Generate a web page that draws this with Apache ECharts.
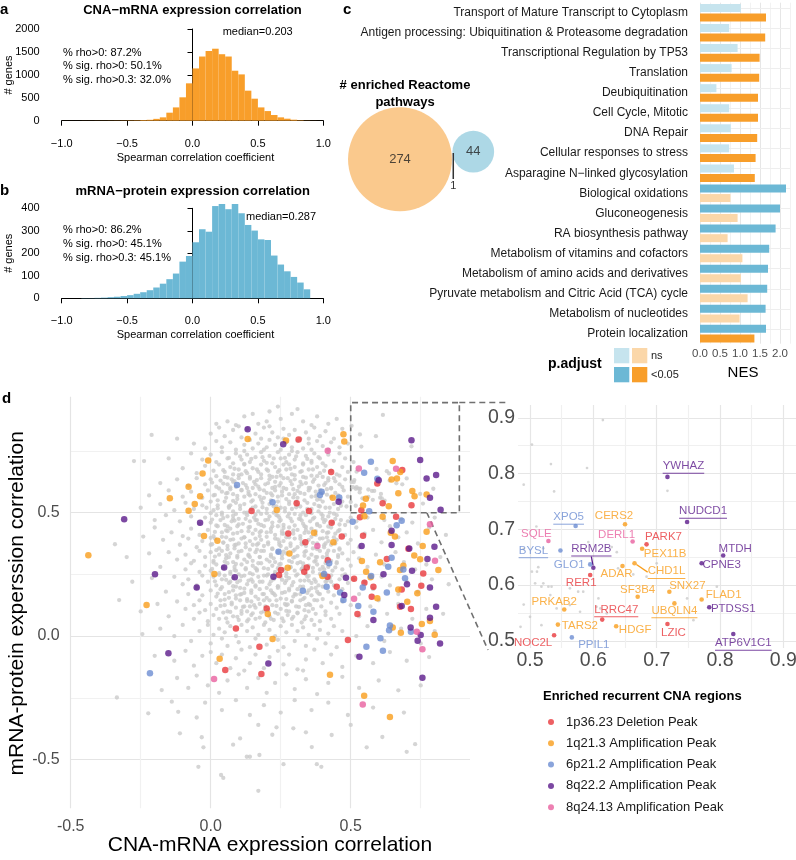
<!DOCTYPE html>
<html>
<head>
<meta charset="utf-8">
<title>CNA / mRNA / protein correlation</title>
<script src="https://cdn.jsdelivr.net/npm/echarts@6.0.0/dist/echarts.min.js"></script>
<style>
  html, body { margin: 0; padding: 0; background: #fff; }
  #main { width: 796px; height: 860px; }
</style>
</head>
<body>
<div id="main"></div>
<script>
// ---------- panel a / b : histograms ----------
var binStarts = [-1.0, -0.95, -0.9, -0.85, -0.8, -0.75, -0.7, -0.65, -0.6, -0.55,
                 -0.5, -0.45, -0.4, -0.35, -0.3, -0.25, -0.2, -0.15, -0.1, -0.05,
                 0.0, 0.05, 0.1, 0.15, 0.2, 0.25, 0.3, 0.35, 0.4, 0.45,
                 0.5, 0.55, 0.6, 0.65, 0.7, 0.75, 0.8, 0.85, 0.9, 0.95];
var binWidth = 0.05;
var cnaMrnaCounts = [1, 1, 1, 2, 2, 3, 3, 4, 5, 6,
                     8, 10, 15, 20, 40, 73, 175, 290, 510, 815,
                     1140, 1400, 1520, 1570, 1450, 1400, 1090, 1010, 655, 480,
                     290, 210, 125, 73, 44, 22, 10, 4, 2, 1];
var mrnaProtCounts = [0, 0, 0, 1, 1, 2, 3, 5, 7, 10,
                      14, 20, 27, 36, 48, 65, 85, 110, 163, 188,
                      249, 307, 296, 410, 419, 396, 419, 378, 326, 301,
                      262, 259, 190, 150, 120, 95, 70, 40, 0, 0];
var cnaMrnaMedian = 0.203;
var mrnaProtMedian = 0.287;
var cnaMrnaStats = ['% rho>0: 87.2%', '% sig. rho>0: 50.1%', '% sig. rho>0.3: 32.0%'];
var mrnaProtStats = ['% rho>0: 86.2%', '% sig. rho>0: 45.1%', '% sig. rho>0.3: 45.1%'];

// ---------- panel c : reactome pathways ----------
var vennCounts = [274, 44, 1];   // CNA-mRNA only, mRNA-protein only, both
var pathways = [
    'Transport of Mature Transcript to Cytoplasm',
    'Antigen processing: Ubiquitination & Proteasome degradation',
    'Transcriptional Regulation by TP53',
    'Translation',
    'Deubiquitination',
    'Cell Cycle, Mitotic',
    'DNA Repair',
    'Cellular responses to stress',
    'Asparagine N\u2212linked glycosylation',
    'Biological oxidations',
    'Gluconeogenesis',
    'RA biosynthesis pathway',
    'Metabolism of vitamins and cofactors',
    'Metabolism of amino acids and derivatives',
    'Pyruvate metabolism and Citric Acid (TCA) cycle',
    'Metabolism of nucleotides',
    'Protein localization'
];
var nesProt = [1.02, 0.73, 0.94, 0.79, 0.41, 0.73, 0.77, 0.73, 0.85, 2.15, 2.00, 1.89, 1.73, 1.70, 1.68, 1.64, 1.65];
var sigProt = [0, 0, 0, 0, 0, 0, 0, 0, 0, 1, 1, 1, 1, 1, 1, 1, 1];
var nesCna = [1.65, 1.63, 1.49, 1.48, 1.45, 1.45, 1.43, 1.39, 1.37, 0.76, 0.94, 0.69, 1.06, 1.02, 1.19, 0.99, 1.36];
var sigCna = [1, 1, 1, 1, 1, 1, 1, 1, 1, 0, 0, 0, 0, 0, 0, 0, 1];

// ---------- panel d : gene scatter ----------
var regionNames = ['1p36.23 Deletion Peak', '1q21.3 Amplification Peak', '6p21.2 Amplification Peak',
                   '8q22.2 Amplification Peak', '8q24.13 Amplification Peak'];
var regionColors = ['#E8383C', '#F99E1C', '#6D8DD2', '#5B1A8B', '#E9609F'];

// all genes (x = CNA-mRNA rho, y = mRNA-protein rho)
var greyPoints = [
 [.06,.87],[.12,.89],[.17,.86],[.21,.91],[.25,.88],[.29,.90],[.33,.87],[.38,.89],[.42,.86],[.615,.896],[.503,.852],[.24,.93],[.09,.855],[.15,.90],[.31,.92],[.36,.855],[.20,.87],[.45,.88],[.02,.86],
 [-.211,.815],[-.12,.80],[0,.82],[.03,.845],[.05,.81],[.08,.835],[.11,.805],[.13,.84],[.16,.82],[.18,.80],[.19,.845],[.22,.825],[.24,.805],[.26,.84],[.28,.815],[.30,.835],[.32,.80],[.34,.825],[.37,.845],[.39,.81],[.41,.83],[.44,.80],[.47,.84],[.533,.817],[.59,.81],[.10,.85],[.21,.85],[.35,.80],
 [-.06,.78],[-.02,.76],[.02,.79],[.04,.765],[.07,.785],[.09,.755],[.12,.775],[.14,.795],[.15,.76],[.17,.78],[.20,.765],[.21,.795],[.23,.775],[.25,.755],[.27,.785],[.29,.765],[.31,.79],[.33,.76],[.35,.78],[.36,.755],[.38,.79],[.40,.77],[.42,.755],[.43,.785],[.46,.765],[.49,.78],[.538,.768],[.717,.769],[.19,.755],[.26,.80],
 [-.274,.709],[-.238,.709],[-.15,.72],[-.07,.74],[-.03,.715],[0,.735],[.02,.705],[.04,.745],[.06,.72],[.08,.70],[.09,.74],[.11,.715],[.13,.735],[.14,.705],[.16,.725],[.18,.745],[.19,.71],[.21,.73],[.22,.70],[.24,.745],[.25,.72],[.27,.705],[.28,.735],[.30,.715],[.31,.745],[.33,.70],[.34,.73],[.36,.71],[.37,.74],[.39,.72],[.40,.70],[.42,.735],[.44,.71],[.46,.74],[.48,.72],[.51,.705],[.12,.75],[.29,.75],
 [-.10,.68],[-.05,.66],[-.02,.69],[.01,.67],[.03,.695],[.05,.665],[.07,.685],[.08,.655],[.10,.675],[.12,.695],[.13,.66],[.15,.68],[.17,.665],[.18,.695],[.20,.675],[.21,.65],[.23,.685],[.24,.665],[.26,.695],[.27,.675],[.29,.655],[.30,.685],[.32,.665],[.33,.695],[.35,.675],[.36,.65],[.38,.685],[.39,.66],[.41,.69],[.43,.67],[.45,.655],[.47,.685],[.49,.665],[.521,.666],[.592,.677],[.629,.668],[.637,.659],[.11,.655],[.25,.65],
 [-.18,.62],[-.12,.635],[-.08,.61],[-.05,.64],[-.02,.615],[0,.635],[.02,.605],[.035,.63],[.05,.645],[.06,.615],[.075,.635],[.09,.605],[.10,.64],[.115,.62],[.13,.60],[.14,.645],[.155,.625],[.17,.605],[.18,.64],[.195,.615],[.21,.635],[.22,.60],[.235,.645],[.25,.62],[.26,.60],[.275,.64],[.29,.615],[.30,.635],[.315,.605],[.33,.645],[.34,.62],[.355,.60],[.37,.635],[.385,.61],[.40,.645],[.41,.62],[.43,.60],[.44,.64],[.46,.615],[.48,.635],[.513,.632],[.503,.624],[.508,.603],[.511,.624],[.521,.603],[.639,.63],[.663,.619],[.684,.615],[.70,.639],[.795,.597],[.08,.625],[.16,.615],[.23,.625],[.32,.625],[.42,.63],
 [-.22,.57],[-.15,.59],[-.10,.565],[-.07,.585],[-.03,.56],[-.01,.59],[.01,.57],[.025,.55],[.04,.585],[.055,.56],[.07,.595],[.08,.575],[.095,.555],[.11,.59],[.12,.565],[.135,.585],[.15,.55],[.16,.575],[.175,.595],[.19,.56],[.20,.58],[.215,.55],[.23,.59],[.24,.565],[.255,.585],[.27,.555],[.28,.575],[.295,.595],[.31,.56],[.32,.58],[.335,.55],[.35,.59],[.36,.565],[.375,.585],[.39,.555],[.40,.58],[.415,.595],[.43,.565],[.445,.58],[.46,.555],[.475,.59],[.49,.565],[.518,.597],[.529,.597],[.534,.597],[.532,.582],[.576,.588],[.584,.588],[.563,.594],[.608,.576],[.563,.564],[.605,.561],[.748,.576],[.611,.558],[.542,.558],[.579,.552],[.06,.58],[.14,.57],[.22,.57],[.30,.575],[.38,.57],
 [-.25,.52],[-.18,.535],[-.13,.51],[-.09,.54],[-.06,.515],[-.03,.53],[0,.545],[.01,.51],[.025,.53],[.04,.50],[.05,.545],[.065,.52],[.08,.505],[.09,.54],[.105,.515],[.12,.535],[.13,.50],[.145,.545],[.16,.525],[.17,.505],[.185,.54],[.20,.515],[.21,.535],[.225,.50],[.24,.545],[.25,.52],[.265,.505],[.28,.535],[.29,.515],[.305,.545],[.32,.525],[.33,.50],[.345,.54],[.36,.515],[.37,.535],[.385,.505],[.40,.545],[.41,.52],[.425,.50],[.44,.535],[.455,.515],[.47,.545],[.485,.525],[.50,.543],[.518,.528],[.621,.549],[.758,.537],[.07,.53],[.15,.52],[.235,.525],[.31,.53],[.39,.525],
 [-.20,.47],[-.16,.49],[-.11,.465],[-.07,.485],[-.04,.455],[-.02,.48],[0,.46],[.02,.49],[.035,.47],[.05,.45],[.06,.485],[.075,.465],[.09,.495],[.10,.475],[.115,.455],[.13,.49],[.14,.465],[.155,.48],[.17,.455],[.18,.495],[.195,.47],[.21,.485],[.22,.46],[.235,.49],[.25,.47],[.26,.45],[.275,.485],[.29,.465],[.30,.495],[.315,.475],[.33,.455],[.34,.49],[.355,.465],[.37,.48],[.38,.455],[.395,.495],[.41,.47],[.42,.485],[.435,.46],[.45,.49],[.465,.47],[.48,.45],[.50,.48],[.52,.465],[.56,.48],[.62,.47],[.68,.475],[.72,.46],[.80,.48],[.08,.475],[.16,.47],[.245,.48],[.32,.475],[.40,.475],
 [-.241,.403],[-.20,.44],[-.14,.42],[-.10,.405],[-.07,.435],[-.04,.41],[-.01,.43],[.01,.405],[.025,.445],[.04,.42],[.055,.40],[.07,.435],[.08,.415],[.095,.445],[.11,.425],[.12,.40],[.135,.44],[.15,.415],[.16,.43],[.175,.405],[.19,.445],[.20,.42],[.215,.435],[.23,.41],[.24,.445],[.255,.425],[.27,.40],[.28,.44],[.295,.415],[.31,.43],[.32,.405],[.335,.445],[.35,.42],[.36,.435],[.375,.41],[.39,.445],[.40,.425],[.415,.40],[.43,.44],[.445,.415],[.46,.43],[.48,.41],[.52,.44],[.55,.415],[.58,.43],[.64,.445],[.67,.40],[.70,.42],[.78,.44],[.84,.41],[.06,.425],[.18,.425],[.26,.415],[.34,.43],[.42,.42],
 [-.342,.372],[-.17,.39],[-.11,.37],[-.08,.395],[-.05,.36],[-.03,.385],[0,.37],[.015,.395],[.03,.355],[.045,.38],[.06,.365],[.07,.39],[.085,.355],[.10,.375],[.11,.395],[.125,.36],[.14,.385],[.15,.37],[.165,.35],[.18,.39],[.19,.365],[.205,.38],[.22,.355],[.23,.395],[.245,.37],[.26,.385],[.27,.355],[.285,.375],[.30,.395],[.31,.36],[.325,.38],[.34,.365],[.35,.39],[.365,.355],[.38,.375],[.39,.395],[.405,.36],[.42,.385],[.43,.37],[.45,.39],[.46,.355],[.49,.375],[.50,.39],[.53,.36],[.61,.38],[.74,.375],[.09,.37],[.17,.375],[.25,.365],[.33,.375],[.41,.375],
 [-.30,.32],[-.22,.335],[-.15,.34],[-.12,.31],[-.09,.33],[-.06,.305],[-.04,.345],[-.02,.32],[0,.34],[.01,.305],[.03,.33],[.04,.345],[.055,.315],[.07,.335],[.08,.30],[.095,.325],[.11,.345],[.12,.31],[.135,.33],[.15,.305],[.16,.34],[.175,.32],[.19,.345],[.20,.31],[.215,.33],[.23,.30],[.24,.34],[.255,.315],[.27,.335],[.28,.305],[.295,.345],[.31,.325],[.32,.30],[.335,.34],[.35,.315],[.36,.33],[.375,.305],[.39,.345],[.40,.32],[.415,.335],[.43,.305],[.44,.345],[.455,.32],[.47,.335],[.49,.31],[.51,.34],[.53,.315],[.59,.33],[.66,.34],[.69,.30],[.82,.32],[.065,.32],[.14,.32],[.225,.315],[.30,.32],[.38,.32],
 [-.18,.28],[-.09,.27],[-.07,.295],[-.04,.26],[-.02,.285],[0,.265],[.02,.29],[.03,.255],[.045,.275],[.06,.295],[.07,.26],[.085,.28],[.10,.25],[.11,.29],[.125,.27],[.14,.255],[.15,.285],[.165,.265],[.18,.295],[.19,.275],[.205,.25],[.22,.285],[.23,.26],[.245,.29],[.26,.27],[.27,.255],[.285,.28],[.30,.265],[.31,.295],[.325,.27],[.34,.25],[.35,.285],[.365,.26],[.38,.29],[.39,.27],[.405,.255],[.42,.28],[.435,.265],[.45,.295],[.47,.27],[.48,.25],[.50,.285],[.56,.28],[.62,.29],[.73,.27],[.77,.29],[.09,.265],[.16,.275],[.24,.275],[.33,.28],[.40,.28],
 [-.28,.22],[-.21,.235],[-.13,.24],[-.10,.21],[-.08,.23],[-.05,.205],[-.03,.245],[-.01,.22],[.01,.24],[.02,.205],[.04,.23],[.05,.245],[.065,.215],[.08,.235],[.09,.20],[.105,.225],[.12,.245],[.13,.21],[.145,.23],[.16,.205],[.17,.24],[.185,.22],[.20,.245],[.21,.21],[.225,.23],[.24,.20],[.25,.24],[.265,.215],[.28,.235],[.29,.205],[.305,.245],[.32,.225],[.33,.20],[.345,.24],[.36,.215],[.37,.23],[.385,.205],[.40,.245],[.41,.22],[.425,.235],[.44,.205],[.46,.23],[.47,.245],[.49,.215],[.51,.23],[.55,.22],[.61,.24],[.64,.205],[.70,.22],[.79,.23],[.85,.21],[.07,.22],[.15,.22],[.27,.225],[.35,.225],[.43,.22],
 [-.16,.18],[-.08,.17],[-.05,.195],[-.03,.165],[0,.185],[.02,.16],[.035,.19],[.05,.17],[.065,.155],[.08,.185],[.09,.165],[.105,.195],[.12,.175],[.13,.15],[.145,.185],[.16,.16],[.175,.19],[.19,.17],[.20,.155],[.215,.185],[.23,.165],[.24,.195],[.255,.175],[.27,.15],[.28,.185],[.295,.16],[.31,.19],[.32,.17],[.335,.155],[.35,.185],[.36,.165],[.375,.195],[.39,.17],[.40,.15],[.42,.18],[.44,.165],[.47,.19],[.53,.17],[.58,.19],[.67,.17],[.74,.18],[.11,.17],[.22,.175],[.30,.17],[.38,.18],
 [-.327,.146],[-.19,.13],[-.12,.14],[-.09,.11],[-.06,.125],[-.04,.145],[-.02,.105],[0,.13],[.02,.11],[.035,.145],[.05,.125],[.06,.10],[.075,.135],[.09,.115],[.105,.145],[.12,.12],[.13,.10],[.145,.14],[.16,.115],[.175,.13],[.19,.145],[.205,.105],[.22,.125],[.235,.145],[.25,.11],[.265,.13],[.28,.10],[.29,.14],[.305,.12],[.32,.145],[.335,.105],[.35,.13],[.365,.11],[.38,.145],[.395,.12],[.41,.10],[.43,.135],[.45,.115],[.47,.14],[.50,.125],[.57,.12],[.60,.145],[.67,.13],[.77,.11],[.14,.12],[.27,.125],[.34,.125],
 [-.25,.10],[-.15,.08],[-.06,.07],[-.04,.095],[-.01,.06],[.01,.085],[.03,.07],[.045,.095],[.06,.055],[.08,.08],[.10,.065],[.11,.09],[.13,.06],[.145,.085],[.16,.07],[.18,.095],[.195,.055],[.21,.08],[.225,.065],[.24,.09],[.26,.06],[.275,.085],[.29,.07],[.31,.095],[.325,.055],[.34,.08],[.36,.065],[.375,.09],[.39,.06],[.41,.085],[.43,.07],[.46,.09],[.53,.08],[.63,.09],[.72,.07],[.83,.09],
 [-.244,.008],[-.18,.03],[-.13,0],[-.10,.045],[-.04,.02],[-.01,.045],[.01,.005],[.03,.03],[.05,.015],[.07,.04],[.09,0],[.11,.045],[.13,.02],[.15,.035],[.17,.005],[.19,.045],[.21,.025],[.23,0],[.25,.04],[.27,.015],[.29,.045],[.31,.02],[.33,.035],[.35,.005],[.37,.045],[.39,.025],[.42,.01],[.44,.04],[.47,.02],[.52,0],[.56,.04],[.68,.03],[.80,.02],
 [-.07,-.02],[0,-.03],[.04,-.01],[.06,-.04],[.10,-.025],[.14,-.045],[.16,-.01],[.20,-.035],[.24,-.015],[.26,-.045],[.30,-.02],[.34,-.04],[.38,-.01],[.41,-.03],[.45,-.045],[.62,-.02],[.75,-.03],
 [-.20,-.08],[-.13,-.10],[-.09,-.06],[-.06,-.12],[-.03,-.08],[0,-.065],[.02,-.11],[.04,-.075],[.07,-.13],[.09,-.09],[.11,-.055],[.14,-.11],[.16,-.075],[.19,-.13],[.21,-.085],[.24,-.06],[.26,-.115],[.28,-.075],[.31,-.135],[.34,-.095],[.37,-.055],[.40,-.11],[.43,-.075],[.47,-.125],[.52,-.08],[.58,-.11],[.64,-.065],[.70,-.10],[.78,-.085],[.12,-.14],[.33,-.14],
 [-.175,-.219],[-.12,-.17],[-.08,-.21],[-.05,-.16],[-.01,-.20],[.03,-.23],[.06,-.18],[.10,-.155],[.13,-.21],[.17,-.17],[.20,-.23],[.23,-.19],[.27,-.155],[.30,-.215],[.34,-.175],[.38,-.235],[.42,-.19],[.47,-.165],[.53,-.21],[.60,-.18],[.67,-.22],[.75,-.20],
 [-.335,-.249],[-.223,-.313],[-.139,-.266],[-.116,-.307],[-.05,-.33],[-.02,-.27],[.04,-.30],[.09,-.26],[.14,-.32],[.19,-.28],[.25,-.31],[.30,-.26],[.36,-.30],[.42,-.27],[.49,-.32],[.58,-.29],[.69,-.31],
 [-.11,-.394],[-.032,-.41],[.08,-.44],[.105,-.415],[.22,-.40],[.235,-.37],[.295,-.374],[.34,-.39],[.432,-.401],[.613,-.409],[.73,-.438],[.17,-.36],[.50,-.36],
 [-.044,-.53],[-.026,-.451],[.129,-.489],[.14,-.489],[.174,-.482],[.26,-.519],[.379,-.519],[.395,-.53],[.361,-.45],[.557,-.451],[.70,-.469],[.037,-.563],[.045,-.575],[.17,-.627],
 // dense core
 [.005,.622],[.045,.618],[.085,.628],[.125,.612],[.165,.632],[.205,.62],[.245,.61],[.285,.628],[.325,.615],[.365,.625],[.405,.612],[.445,.627],
 [.015,.572],[.055,.578],[.095,.568],[.135,.575],[.175,.565],[.215,.578],[.255,.57],[.295,.562],[.335,.576],[.375,.567],[.415,.573],[.455,.57],
 [-.015,.52],[.025,.518],[.065,.525],[.105,.528],[.145,.515],[.185,.522],[.225,.526],[.265,.518],[.305,.522],[.345,.515],[.385,.527],[.425,.52],[.465,.528],
 [.005,.472],[.045,.478],[.085,.468],[.125,.475],[.165,.47],[.205,.472],[.245,.465],[.285,.476],[.325,.468],[.365,.475],[.405,.462],[.445,.475],[.49,.465],
 [.015,.422],[.055,.428],[.095,.418],[.135,.425],[.175,.42],[.215,.422],[.255,.415],[.295,.428],[.335,.418],[.375,.425],[.415,.418],[.455,.425],
 [.005,.372],[.045,.378],[.085,.368],[.125,.375],[.165,.37],[.205,.372],[.245,.38],[.285,.365],[.325,.372],[.365,.378],[.405,.368],[.445,.375],
 [.015,.322],[.055,.328],[.095,.318],[.135,.325],[.175,.32],[.215,.322],[.255,.328],[.295,.318],[.335,.325],[.375,.32],[.415,.322],[.455,.328],
 [.005,.272],[.045,.278],[.085,.268],[.125,.275],[.165,.27],[.205,.272],[.245,.268],[.285,.278],[.325,.272],[.365,.276],[.405,.27],[.445,.278],
 [.015,.222],[.055,.228],[.095,.218],[.135,.225],[.175,.22],[.215,.222],[.255,.228],[.295,.218],[.335,.225],[.375,.22],[.415,.224],
 [.025,.172],[.065,.178],[.105,.168],[.145,.175],[.185,.17],[.225,.172],[.265,.178],[.305,.168],[.345,.175],[.385,.172],
 [.035,.122],[.075,.128],[.115,.118],[.155,.125],[.195,.12],[.235,.122],[.275,.128],[.315,.118],[.355,.125],
 [.055,.072],[.095,.078],[.135,.068],[.175,.075],[.215,.07],[.255,.072],[.295,.078],[.335,.068],
 [.045,.672],[.085,.678],[.125,.668],[.165,.675],[.205,.67],[.245,.672],[.285,.678],[.325,.668],[.365,.675],[.405,.67],
 [.065,.722],[.105,.728],[.145,.718],[.185,.725],[.225,.72],[.265,.722],[.305,.728],[.345,.718],[.385,.725],
 [.02,.648],[.06,.642],[.1,.652],[.14,.638],[.18,.655],[.22,.645],[.26,.64],[.3,.652],[.34,.642],[.38,.648],[.42,.64],[.46,.65],
 [.03,.598],[.07,.602],[.11,.592],[.15,.6],[.19,.59],[.23,.604],[.27,.596],[.31,.588],[.35,.6],[.39,.592],[.43,.598],[.47,.604],
 [.0,.498],[.04,.492],[.08,.488],[.12,.5],[.16,.492],[.2,.498],[.24,.488],[.28,.496],[.32,.49],[.36,.498],[.4,.488],[.44,.496],
 [.02,.448],[.06,.444],[.1,.452],[.14,.442],[.18,.45],[.22,.445],[.26,.438],[.3,.448],[.34,.442],[.38,.45],[.42,.444],[.46,.452],
 [.0,.398],[.04,.402],[.08,.392],[.12,.4],[.16,.395],[.2,.402],[.24,.392],[.28,.4],[.32,.394],[.36,.402],[.4,.396],[.44,.4],
 [.02,.348],[.06,.352],[.1,.342],[.14,.35],[.18,.345],[.22,.352],[.26,.342],[.3,.35],[.34,.344],[.38,.352],[.42,.346],[.46,.35],
 [.01,.298],[.05,.302],[.09,.292],[.13,.3],[.17,.295],[.21,.302],[.25,.292],[.29,.3],[.33,.294],[.37,.302],[.41,.296],[.45,.3],
 [.03,.248],[.07,.252],[.11,.242],[.15,.25],[.19,.245],[.23,.252],[.27,.242],[.31,.25],[.35,.244],[.39,.252],[.43,.246],
 [.04,.198],[.08,.202],[.12,.192],[.16,.2],[.2,.195],[.24,.202],[.28,.192],[.32,.2],[.36,.194],[.4,.2],
 [.05,.148],[.09,.152],[.13,.142],[.17,.15],[.21,.145],[.25,.152],[.29,.142],[.33,.15],[.37,.146],
 [.07,.098],[.11,.102],[.15,.092],[.19,.1],[.23,.095],[.27,.102],[.31,.092],[.35,.1],
 [.08,.548],[.18,.552],[.28,.545],[.38,.552],[.12,.698],[.2,.702],[.28,.696],[.36,.702]
];

// genes in enriched recurrent CNA regions [x, y, region index]
var regionPoints = [
 [.132,.838,3],[.259,.777,3],[.457,.544,3],[-.038,.459,3],[.646,.427,3],[.646,.369,3],[.539,.365,3],[.799,.362,3],[.709,.355,3],[.774,.312,3],[.048,.278,3],[.086,.238,3],[.224,.240,3],[.483,.236,3],[.617,.250,3],[.719,.265,3],[.701,.210,3],[.783,.197,3],[.477,.166,3],[.682,.122,3],[.805,.119,3],[.581,.065,3],[.783,.074,3],[.714,.035,3],[.531,-.084,3],[.75,.004,3],[.739,-.019,3],[.819,-.03,3],[.756,-.169,3],[-.151,-.07,3],[.206,-.111,3],[-.309,.473,3],[-.199,.25,3],[-.05,.197,3],
 [.314,.797,0],[.430,.665,0],[.662,.483,0],[.307,.538,0],[.351,.507,0],[.146,.507,0],[.432,.459,0],[.277,.416,0],[.468,.403,0],[.544,.407,0],[.338,.38,0],[.706,.354,0],[.418,.307,0],[.343,.278,0],[.334,.261,0],[.251,.268,0],[.244,.247,0],[.417,.24,0],[.512,.232,0],[.549,.216,0],[.629,.312,0],[.759,.254,0],[.45,.20,0],[.581,.20,0],[.682,.189,0],[.752,.204,0],[.575,.159,0],[.676,.119,0],[.715,.11,0],[.2,.112,0],[.524,.089,0],[.09,.031,0],[.174,-.043,0],[.052,-.138,0],[.181,-.154,0],[.49,-.016,0],[.533,.481,0],
 [.396,.585,2],[.39,.572,2],[.459,.562,2],[.094,.612,2],[.221,.542,2],[.507,.463,2],[.664,.449,2],[.682,.467,2],[.242,.342,2],[.423,.295,2],[.646,.317,2],[.634,.281,2],[.688,.27,2],[.405,.251,2],[.414,.2,2],[.329,.184,2],[.543,.197,2],[.462,.177,2],[.474,.146,2],[.527,.122,2],[.573,.243,2],[.629,.177,2],[.694,.234,2],[.581,.099,2],[.64,.043,2],[-.217,-.151,2],[.556,-.043,2],[.615,-.06,2],[.606,-.009,2],[.637,.024,2],[.715,.017,2],
 [.132,.799,1],[.269,.792,1],[.474,.818,1],[.477,.788,1],[-.009,.711,1],[-.029,.659,1],[.436,.561,1],[.549,.486,1],[.614,.484,1],[.236,.511,1],[-.038,.567,1],[-.024,.405,1],[.024,.386,1],[.369,.419,1],[.438,.38,1],[.771,.423,1],[.643,.419,1],[.658,.403,1],[.281,.335,1],[.757,.365,1],[.727,.326,1],[.748,.311,1],[.54,.304,1],[.605,.299,1],[.688,.285,1],[.676,.268,1],[.813,.268,1],[.275,.277,1],[.555,.261,1],[.013,.251,1],[.399,.243,1],[.571,.238,1],[.67,.189,1],[.738,.173,1],[.595,.153,1],[.702,.139,1],[.204,.089,1],[.754,.049,1],[.783,.061,1],[-.229,.126,1],[.221,-.012,1],[.032,-.092,1],[.426,-.157,1],[.65,.035,1],[.679,.013,1],[.80,.005,1],[.548,-.242,1],[.64,-.328,1],[-.079,.605,1],[-.146,.558,1],[-.057,.535,1],[-.079,.508,1],[-.437,.327,1],
 [.418,.751,4],[.783,.453,4],[.381,.365,4],[.801,.305,4],[.512,.151,4],[.012,-.174,4],[.736,.017,4],[.756,-.053,4],[.543,-.277,4]
];

// labelled genes in the zoomed view
var geneNames = ['YWHAZ', 'NUDCD1', 'XPO5', 'CERS2', 'SQLE', 'DERL1', 'PARK7', 'PEX11B', 'BYSL', 'RRM2B',
                 'GLO1', 'MTDH', 'CPNE3', 'ADAR', 'CHD1L', 'RER1', 'SF3B4', 'SNX27', 'FLAD1', 'UBQLN4',
                 'PTDSS1', 'PRKAB2', 'LRRC47', 'TARS2', 'HDGF', 'LZIC', 'NOC2L', 'PPIL1', 'ATP6V1C1'];
var geneCna = [0.717, 0.748, 0.572, 0.650, 0.529, 0.662, 0.684, 0.677, 0.548, 0.600,
               0.595, 0.805, 0.771, 0.646, 0.665, 0.595, 0.670, 0.720, 0.771, 0.728,
               0.783, 0.554, 0.614, 0.544, 0.636, 0.717, 0.538, 0.566, 0.821];
var geneProt = [0.794, 0.713, 0.706, 0.709, 0.679, 0.678, 0.673, 0.665, 0.662, 0.631,
                0.637, 0.653, 0.639, 0.634, 0.639, 0.618, 0.579, 0.588, 0.574, 0.567,
                0.560, 0.556, 0.538, 0.529, 0.526, 0.530, 0.510, 0.506, 0.512];
var geneRegion = [3, 3, 2, 1, 4, 4, 0, 1, 2, 3,
                  2, 3, 3, 1, 1, 0, 1, 1, 1, 1,
                  3, 1, 0, 1, 1, 0, 0, 2, 3];
var geneUnderline = [1, 1, 1, 0, 0, 0, 0, 0, 1, 1,
                     0, 0, 0, 0, 1, 0, 0, 0, 0, 1,
                     0, 0, 1, 0, 0, 0, 0, 0, 1];

// label placement (px from point) and repel segments
var geneLabelOffset = [[16, -10], [16, -10], [-7, -8], [-11, -8], [-12, -7], [-16, -7], [17, -8], [23, 5], [-27, 1], [-2, -18],
                       [-21, 0], [12, -7], [20, 2], [-6, 8], [32, 9], [-9, 8], [0, -7], [18, -6], [22, -5], [0, 8],
                       [24, 2], [-10, -8], [14, -9], [22, 1], [19, 4], [6, 9], [-21, 8], [22, 7], [10, 10]];
var geneLinked = ['RRM2B', 'CHD1L'];

var FONT = '"Liberation Sans", Arial, Helvetica, sans-serif';
var C = {
    histOrange: '#F89E2A',
    histBlue: '#6CB8D5',
    blueDark: '#6CB8D5',
    blueLight: '#C6E4EE',
    orangeDark: '#F89E2A',
    orangeLight: '#FBD7A9',
    vennOrange: '#F9BC70',
    vennBlue: '#98CEE0',
    grey: '#cbcbcb',
    tick: '#4d4d4d'
};

var chart = echarts.init(document.getElementById('main'));

// measure text for underlines
var measureCtx = document.createElement('canvas').getContext('2d');
function textWidth(str, font) {
    measureCtx.font = font;
    return measureCtx.measureText(str).width;
}

function fmtMinus(v) {
    return v < 0 ? '\u2212' + Math.abs(v).toFixed(1) : v.toFixed(1);
}

function histData(counts) {
    var out = [];
    for (var i = 0; i < binStarts.length; i++) {
        out.push([binStarts[i], binStarts[i] + binWidth, counts[i]]);
    }
    return out;
}

function renderHist(color) {
    return function (params, api) {
        var top = api.coord([api.value(0), api.value(2)]);
        var base = api.coord([api.value(1), 0]);
        return {
            type: 'rect',
            shape: {x: top[0], y: top[1], width: base[0] - top[0], height: base[1] - top[1]},
            style: {fill: color}
        };
    };
}

function histXAxis(gridIndex) {
    return {
        gridIndex: gridIndex, type: 'value', min: -1, max: 1, interval: 0.5, offset: 4.3,
        axisLine: {show: true, lineStyle: {color: '#000', width: 1}},
        axisTick: {show: true, length: 5, lineStyle: {color: '#000'}},
        axisLabel: {margin: 13, fontSize: 11, color: '#000', fontFamily: FONT, formatter: fmtMinus},
        splitLine: {show: false}
    };
}

function histYAxis(gridIndex, max, interval) {
    return {
        gridIndex: gridIndex, type: 'value', min: 0, max: max, interval: interval, offset: 10,
        axisLine: {show: true, lineStyle: {color: '#000', width: 1}},
        axisTick: {show: true, length: 5, lineStyle: {color: '#000'}},
        axisLabel: {margin: 12, fontSize: 11, color: '#000', fontFamily: FONT,
                    formatter: function (v) { return String(v); }},
        splitLine: {show: false}
    };
}

function medianLine(x, top) {
    return {
        silent: true, symbol: 'none', label: {show: false},
        lineStyle: {color: '#333', type: [4, 3], width: 1},
        data: [[{coord: [x, 0]}, {coord: [x, top]}]]
    };
}

function barData(values, sig, dark, light) {
    var out = [];
    for (var i = 0; i < values.length; i++) {
        out.push({value: values[i], itemStyle: {color: sig[i] ? dark : light}});
    }
    return out;
}

function regionData(r) {
    var out = [];
    for (var i = 0; i < regionPoints.length; i++) {
        if (regionPoints[i][2] === r) out.push([regionPoints[i][0], regionPoints[i][1]]);
    }
    for (var j = 0; j < geneNames.length; j++) {
        if (geneRegion[j] === r) out.push([geneCna[j], geneProt[j]]);
    }
    return out;
}

function insetRegionData() {
    var out = [];
    for (var i = 0; i < regionPoints.length; i++) {
        out.push({value: [regionPoints[i][0], regionPoints[i][1]], itemStyle: {color: regionColors[regionPoints[i][2]]}});
    }
    return out;
}

function geneItems() {
    var items = [];
    var labelFont = '11.5px ' + FONT;
    for (var i = 0; i < geneNames.length; i++) {
        var c = regionColors[geneRegion[i]];
        var name = geneNames[i];
        var item = {
            name: name,
            value: [geneCna[i], geneProt[i]],
            itemStyle: {color: c},
            label: {
                formatter: geneUnderline[i] ? '{t|' + name + '}\n{u| }' : '{t|' + name + '}',
                rich: {
                    t: {fontSize: 11.5, lineHeight: 12.5, color: c, fontFamily: FONT},
                    u: {width: textWidth(name, labelFont), height: 1, lineHeight: 2, fontSize: 1, backgroundColor: c}
                }
            }
        };
        if (geneLinked.indexOf(name) >= 0) {
            item.labelLine = {show: true, lineStyle: {color: c, width: 1.3}};
        }
        items.push(item);
    }
    return items;
}

// venn circle sizes: area proportional to pathway count
var vennRadiusUnit = 3.14;
function vennRadius(n) { return vennRadiusUnit * Math.sqrt(n); }
var rCna = vennRadius(vennCounts[0]);
var rProt = vennRadius(vennCounts[1]);
var vennCx = 60, vennCy = 59.3;

function text(x, y, str, font, opts) {
    opts = opts || {};
    return {
        type: 'text', x: x, y: y, rotation: opts.rotation || 0, silent: true,
        style: {
            text: str, font: font, fill: opts.fill || '#000',
            align: opts.align || 'left', verticalAlign: 'middle', lineHeight: opts.lineHeight
        }
    };
}

var mainTicks = [-0.5, -0.25, 0, 0.25, 0.5, 0.75];
var insetTicks = [0.5, 0.55, 0.6, 0.65, 0.7, 0.75, 0.8, 0.85, 0.9];
var barTicks = [0, 0.25, 0.5, 0.75, 1, 1.25, 1.5, 1.75, 2, 2.25];

var graphics = [
    text(0, 10, 'a', 'bold 15px ' + FONT),
    text(192.5, 10.5, 'CNA\u2212mRNA expression correlation', 'bold 13px ' + FONT, {align: 'center'}),
    text(63, 52.7, cnaMrnaStats[0], '11px ' + FONT),
    text(63, 66.2, cnaMrnaStats[1], '11px ' + FONT),
    text(63, 79.7, cnaMrnaStats[2], '11px ' + FONT),
    text(222.7, 32.3, 'median=' + cnaMrnaMedian.toFixed(3), '11px ' + FONT),
    text(9, 75, '# genes', '11px ' + FONT, {align: 'center', rotation: Math.PI / 2}),
    text(195.5, 157.5, 'Spearman correlation coefficient', '11px ' + FONT, {align: 'center'}),

    text(0, 191, 'b', 'bold 15px ' + FONT),
    text(192.7, 191.7, 'mRNA\u2212protein expression correlation', 'bold 13px ' + FONT, {align: 'center'}),
    text(63, 230, mrnaProtStats[0], '11px ' + FONT),
    text(63, 244, mrnaProtStats[1], '11px ' + FONT),
    text(63, 257.7, mrnaProtStats[2], '11px ' + FONT),
    text(246, 217.3, 'median=' + mrnaProtMedian.toFixed(3), '11px ' + FONT),
    text(9, 253.3, '# genes', '11px ' + FONT, {align: 'center', rotation: Math.PI / 2}),
    text(195.5, 335, 'Spearman correlation coefficient', '11px ' + FONT, {align: 'center'}),

    text(343, 10, 'c', 'bold 15px ' + FONT),
    text(405, 93.5, '# enriched Reactome\npathways', 'bold 13px ' + FONT, {align: 'center', lineHeight: 17}),
    text(340 + vennCx + rCna + 1.3, 186, String(vennCounts[2]), '11px ' + FONT, {align: 'center', fill: '#333'}),
    text(743, 373.3, 'NES', '15px ' + FONT, {align: 'center'}),
    text(601.7, 364.3, 'p.adjust', 'bold 14px ' + FONT, {align: 'right'}),
    {type: 'rect', shape: {x: 614, y: 348, width: 15.3, height: 15.3}, style: {fill: C.blueLight}, silent: true},
    {type: 'rect', shape: {x: 632, y: 348, width: 15.3, height: 15.3}, style: {fill: C.orangeLight}, silent: true},
    {type: 'rect', shape: {x: 614, y: 367, width: 15.3, height: 15.3}, style: {fill: C.blueDark}, silent: true},
    {type: 'rect', shape: {x: 632, y: 367, width: 15.3, height: 15.3}, style: {fill: C.orangeDark}, silent: true},
    text(651, 356, 'ns', '11px ' + FONT, {fill: '#222'}),
    text(651, 375, '<0.05', '11px ' + FONT, {fill: '#222'}),

    text(2, 399, 'd', 'bold 15px ' + FONT),
    text(17, 603.3, 'mRNA-protein experssion correlation', '21px ' + FONT, {align: 'center', rotation: Math.PI / 2}),
    text(270, 845, 'CNA-mRNA expression correlation', '21px ' + FONT, {align: 'center'}),
    text(543, 696.7, 'Enriched recurrent CNA regions', 'bold 13px ' + FONT),
    {type: 'polyline', silent: true, shape: {points: [[459.3, 402.5], [507, 402.5]]},
     style: {stroke: '#707070', lineWidth: 1.6, lineDash: [6, 4], fill: null}},
    {type: 'polyline', silent: true, shape: {points: [[426.7, 512.3], [488, 650]]},
     style: {stroke: '#707070', lineWidth: 1.6, lineDash: [6, 4], fill: null}}
];

var series = [
    // a
    {type: 'custom', xAxisIndex: 0, yAxisIndex: 0, clip: false, silent: true,
     renderItem: renderHist(C.histOrange), data: histData(cnaMrnaCounts),
     encode: {x: [0, 1], y: 2}, markLine: medianLine(cnaMrnaMedian, 2090)},
    // b
    {type: 'custom', xAxisIndex: 1, yAxisIndex: 1, clip: false, silent: true,
     renderItem: renderHist(C.histBlue), data: histData(mrnaProtCounts),
     encode: {x: [0, 1], y: 2}, markLine: medianLine(mrnaProtMedian, 430)},
    // c bars
    {type: 'bar', name: 'mRNA-protein', xAxisIndex: 2, yAxisIndex: 2, barWidth: 8, barGap: '20%', silent: true,
     data: barData(nesProt, sigProt, C.blueDark, C.blueLight),
     markLine: {silent: true, symbol: 'none', label: {show: false}, z: 0,
                lineStyle: {color: '#eeeeee', type: 'solid', width: 1},
                data: pathways.map(function (p) { return {yAxis: p}; })}},
    {type: 'bar', name: 'CNA-mRNA', xAxisIndex: 2, yAxisIndex: 2, barWidth: 8, barGap: '20%', silent: true,
     data: barData(nesCna, sigCna, C.orangeDark, C.orangeLight)},
    // venn
    {type: 'scatter', xAxisIndex: 5, yAxisIndex: 5, silent: true,
     data: [
         {value: [vennCx, vennCy, vennCounts[0]], itemStyle: {color: C.vennOrange}},
         {value: [vennCx + rCna + rProt + 0.5, vennCy - 7.6, vennCounts[1]], itemStyle: {color: C.vennBlue}}
     ],
     symbolSize: function (v) { return 2 * vennRadius(v[2]); },
     label: {show: true, position: 'inside', formatter: function (p) { return p.value[2]; },
             fontSize: 13, color: '#222', fontFamily: FONT, textBorderWidth: 0}},
    {type: 'line', xAxisIndex: 5, yAxisIndex: 5, silent: true, symbol: 'none',
     lineStyle: {color: '#333', width: 1.5},
     data: [[vennCx + rCna + 1.3, vennCy - 6.3], [vennCx + rCna + 1.3, vennCy + 19.7]]},
    // d main: all genes
    {type: 'scatter', xAxisIndex: 3, yAxisIndex: 3, silent: true, z: 1, symbolSize: 4.3,
     itemStyle: {color: C.grey}, data: greyPoints,
     markArea: {silent: true,
                itemStyle: {color: 'rgba(0,0,0,0)', borderColor: '#707070', borderWidth: 1.6, borderType: [6, 4]},
                data: [[{coord: [0.5, 0.5]}, {coord: [0.888, 0.946]}]]}},
    // d inset
    {type: 'scatter', xAxisIndex: 4, yAxisIndex: 4, silent: true, z: 1, symbolSize: 2.7,
     itemStyle: {color: C.grey}, data: greyPoints},
    {type: 'scatter', xAxisIndex: 4, yAxisIndex: 4, silent: true, z: 2, symbolSize: 4.6,
     data: insetRegionData()},
    {type: 'scatter', xAxisIndex: 4, yAxisIndex: 4, silent: true, z: 3, symbolSize: 4.6,
     data: geneItems(),
     label: {show: true, position: 'inside', textBorderWidth: 0, fontFamily: FONT},
     labelLayout: function (p) {
         var o = geneLabelOffset[p.dataIndex];
         return {dx: o[0], dy: o[1]};
     },
     labelLine: {show: false}}
];

// region series in main panel (also drive the legend)
for (var r = 0; r < regionNames.length; r++) {
    series.push({
        type: 'scatter', name: regionNames[r], xAxisIndex: 3, yAxisIndex: 3, silent: true, z: 2,
        symbolSize: 6.5, itemStyle: {color: regionColors[r]}, data: regionData(r)
    });
}

var option = {
    backgroundColor: '#fff',
    animation: false,
    textStyle: {fontFamily: FONT},
    grid: [
        {left: 61.7, top: 29, width: 261.6, height: 91.7, outerBoundsMode: 'none'},
        {left: 61.7, top: 208.3, width: 261.6, height: 90, outerBoundsMode: 'none'},
        {left: 700, top: 2.7, width: 90, height: 341, outerBoundsMode: 'none'},
        {left: 70.7, top: 396.7, width: 399.3, height: 411.6, outerBoundsMode: 'none'},
        {left: 518, top: 405, width: 278, height: 243, outerBoundsMode: 'none'},
        {left: 340, top: 100, width: 200, height: 120, outerBoundsMode: 'none'}
    ],
    xAxis: [
        histXAxis(0),
        histXAxis(1),
        {gridIndex: 2, type: 'value', min: 0, max: 2.25,
         axisLine: {show: false},
         axisTick: {show: false, customValues: barTicks},
         axisLabel: {customValues: [0, 0.5, 1, 1.5, 2], margin: 4, fontSize: 11.5, color: C.tick, fontFamily: FONT,
                     formatter: function (v) { return v.toFixed(1); }},
         splitLine: {show: true, lineStyle: {color: ['#e6e6e6', '#f2f2f2'], width: 1}}},
        {gridIndex: 3, type: 'value', min: -0.5, max: 0.926,
         axisLine: {show: false},
         axisTick: {show: false, customValues: mainTicks},
         axisLabel: {customValues: [-0.5, 0, 0.5], margin: 10, fontSize: 16, color: C.tick, fontFamily: FONT,
                     formatter: function (v) { return v.toFixed(1); }},
         splitLine: {show: true, lineStyle: {color: ['#e4e4e4', '#f1f1f1'], width: 1.2}}},
        {gridIndex: 4, type: 'value', min: 0.481, max: 0.92,
         axisLine: {show: false},
         axisTick: {show: false, customValues: insetTicks},
         axisLabel: {customValues: [0.5, 0.6, 0.7, 0.8, 0.9], margin: 3, fontSize: 19.5, color: C.tick, fontFamily: FONT,
                     formatter: function (v) { return v.toFixed(1); }},
         splitLine: {show: true, lineStyle: {color: ['#e6e6e6', '#f0f0f0'], width: 1.2}}},
        {gridIndex: 5, type: 'value', min: 0, max: 200, show: false}
    ],
    yAxis: [
        histYAxis(0, 2000, 500),
        histYAxis(1, 400, 100),
        {gridIndex: 2, type: 'category', data: pathways, inverse: true,
         axisLine: {show: false}, axisTick: {show: false},
         axisLabel: {interval: 0, margin: 12, fontSize: 12, color: '#1a1a1a', fontFamily: FONT},
         splitLine: {show: false}},
        {gridIndex: 3, type: 'value', min: -0.698, max: 0.97,
         axisLine: {show: false},
         axisTick: {show: false, customValues: mainTicks},
         axisLabel: {customValues: [-0.5, 0, 0.5], margin: 11, fontSize: 16, color: C.tick, fontFamily: FONT,
                     formatter: function (v) { return v.toFixed(1); }},
         splitLine: {show: true, lineStyle: {color: ['#e4e4e4', '#f1f1f1'], width: 1.2}}},
        {gridIndex: 4, type: 'value', min: 0.487, max: 0.923,
         axisLine: {show: false},
         axisTick: {show: false, customValues: insetTicks},
         axisLabel: {customValues: [0.5, 0.6, 0.7, 0.8, 0.9], margin: 3, fontSize: 19.5, color: C.tick, fontFamily: FONT,
                     formatter: function (v) { return v.toFixed(1); }},
         splitLine: {show: true, lineStyle: {color: ['#e6e6e6', '#f0f0f0'], width: 1.2}}},
        {gridIndex: 5, type: 'value', min: 0, max: 120, inverse: true, show: false}
    ],
    legend: {
        orient: 'vertical', left: 543, top: 710, itemWidth: 6, itemHeight: 6, itemGap: 7.3,
        icon: 'circle', selectedMode: false,
        textStyle: {fontSize: 13, color: '#1a1a1a', fontFamily: FONT, lineHeight: 14, padding: [0, 0, 0, 7]},
        data: regionNames
    },
    graphic: graphics,
    series: series
};

chart.setOption(option);
</script>
</body>
</html>
